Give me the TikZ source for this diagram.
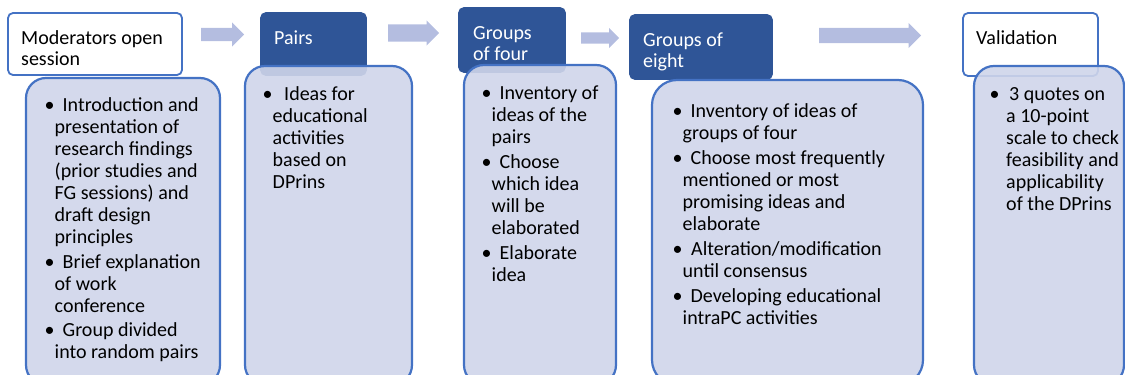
\documentclass[tikz,border=0pt]{standalone}
\usepackage{fontspec}
\setmainfont{Carlito}
\usetikzlibrary{shapes.arrows}
\definecolor{lineblue}{HTML}{4472C4}
\definecolor{hdrblue}{HTML}{2F5597}
\definecolor{bodyfill}{HTML}{CFD5EA}
\definecolor{arrowfill}{HTML}{B4BDE0}
\newcommand{\itembul}[1][18pt]{\makebox[#1][l]{\textbullet}}
\newcommand{\itemind}[1][10pt]{\hspace*{#1}}

\begin{document}
\begin{tikzpicture}[
    x=1pt, y=-1pt,
    hdrlight/.style={rectangle, draw=lineblue, line width=1.8pt, fill=white,
                     rounded corners=5pt, anchor=north west, outer sep=0pt},
    hdrdark/.style={rectangle, draw=hdrblue, line width=1.8pt, fill=hdrblue,
                    rounded corners=5pt, anchor=north west, outer sep=0pt},
    bodybox/.style={rectangle, draw=lineblue, line width=2.2pt, fill=bodyfill,
                    fill opacity=0.9, rounded corners=20pt, anchor=north west,
                    outer sep=0pt},
    hdrtext/.style={anchor=north west, inner sep=0pt, align=left,
                    font=\fontsize{20}{21.5}\selectfont},
    bodytext/.style={anchor=north west, inner sep=0pt, align=left,
                     font=\fontsize{20}{22}\selectfont},
    flowarrow/.style={single arrow, fill=arrowfill, inner xsep=0pt,
                      text height=0pt, text depth=0pt,
                      single arrow head indent=0pt, anchor=tail},
  ]
  \useasboundingbox (0,0) rectangle (1125,375);
  \clip (0,0) rectangle (1125,375);

  % Headers
  \node[hdrlight, minimum width=174pt, minimum height=62pt] (mod) at (8,13) {};
  \node[hdrdark, minimum width=105pt, minimum height=62pt] (pairs) at (261,13) {};
  \node[hdrdark, minimum width=106pt, minimum height=64pt] (four) at (459,8) {};
  \node[hdrdark, minimum width=142pt, minimum height=64pt] (eight) at (630,15) {};
  \node[hdrlight, minimum width=135pt, minimum height=63pt] (valid) at (963,13) {};

  % Block arrows
  \node[flowarrow, inner ysep=6.5pt, minimum height=43pt,
        single arrow head extend=5.5pt] (a1) at (201,34.5) {};
  \node[flowarrow, inner ysep=8.5pt, minimum height=51pt,
        single arrow head extend=4pt] (a2) at (388,33) {};
  \node[flowarrow, inner ysep=5.5pt, minimum height=38pt,
        single arrow head extend=4.5pt] (a3) at (581,38) {};
  \node[flowarrow, inner ysep=7.5pt, minimum height=102pt,
        single arrow head extend=5pt] (a4) at (819,35.5) {};

  % Bodies
  \node[bodybox, minimum width=194pt, minimum height=307pt] (b1) at (26,78) {};
  \node[bodybox, minimum width=167pt, minimum height=319pt] (b2) at (245,66) {};
  \node[bodybox, minimum width=152pt, minimum height=320pt] (b3) at (464,65) {};
  \node[bodybox, minimum width=271pt, minimum height=305pt,
        rounded corners=25pt] (b4) at (652,80) {};
  \node[bodybox, minimum width=150pt, minimum height=319pt] (b5) at (974,66) {};

  % Header texts
  \node[hdrtext] (modtxt) at ([shift={(13,16)}]mod.north west)
    {\strut Moderators open\\session};
  \node[hdrtext, text=white] (pairstxt) at ([shift={(13,16)}]pairs.north west)
    {\strut Pairs};
  \node[hdrtext, text=white] (fourtxt) at ([shift={(14,16)}]four.north west)
    {\strut Groups\\of four};
  \node[hdrtext, text=white] (eighttxt) at ([shift={(13,16)}]eight.north west)
    {\strut Groups of\\eight};
  \node[hdrtext] (validtxt) at ([shift={(13,16)}]valid.north west)
    {\strut Validation};

  % Body texts
  \node[bodytext] (b1txt) at ([shift={(18.5,18)}]b1.north west)
    {\strut\itembul Introduction and\\
     \itemind presentation of\\
     \itemind research findings\\
     \itemind (prior studies and\\
     \itemind FG sessions) and\\
     \itemind draft design\\
     \itemind principles\\[2.5pt]
     \itembul Brief explanation\\
     \itemind of work\\
     \itemind conference\\[2.5pt]
     \itembul Group divided\\
     \itemind into random pairs};
  \node[bodytext] (b2txt) at ([shift={(17.5,18.6)}]b2.north west)
    {\strut\itembul[17pt] Ideas for\\
     \itemind educational\\
     \itemind activities\\
     \itemind based on\\
     \itemind DPrins};
  \node[bodytext] (b3txt) at ([shift={(17.5,18.6)}]b3.north west)
    {\strut\itembul Inventory of\\
     \itemind ideas of the\\
     \itemind pairs\\[3pt]
     \itembul Choose\\
     \itemind which idea\\
     \itemind will be\\
     \itemind elaborated\\[3pt]
     \itembul Elaborate\\
     \itemind idea};
  \node[bodytext] (b4txt) at ([shift={(20.5,22)}]b4.north west)
    {\strut\itembul Inventory of ideas of\\
     \itemind groups of four\\[3pt]
     \itembul Choose most frequently\\
     \itemind mentioned or most\\
     \itemind promising ideas and\\
     \itemind elaborate\\[3pt]
     \itembul[14pt] Alteration/modification\\
     \itemind until consensus\\[3pt]
     \itembul Developing educational\\
     \itemind intraPC activities};
  \node[bodytext] (b5txt) at ([shift={(15.5,18.6)}]b5.north west)
    {\strut\itembul[15pt] 3 quotes on\\
     \itemind[12pt] a 10-point\\
     \itemind[12pt] scale to check\\
     \itemind[12pt] feasibility and\\
     \itemind[12pt] applicability\\
     \itemind[12pt] of the DPrins};
\end{tikzpicture}
\end{document}
